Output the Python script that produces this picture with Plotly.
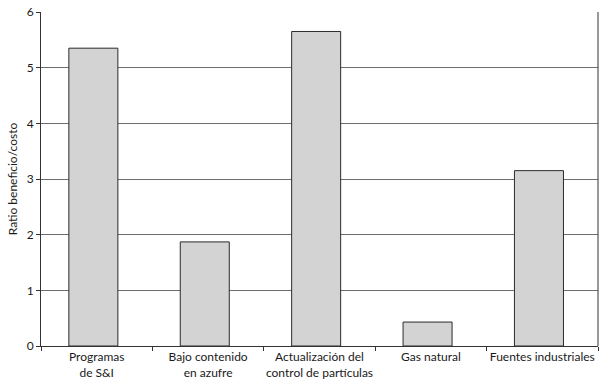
import plotly.graph_objects as go

categories = ["Programas<br>de S&I", "Bajo contenido<br>en azufre", "Actualización del<br>control de partículas", "Gas natural", "Fuentes industriales"]
values = [5.35, 1.87, 5.65, 0.43, 3.15]
y_ticks = [0, 1, 2, 3, 4, 5, 6]

fig = go.Figure(go.Bar(
    x=categories, y=values,
    marker=dict(color="#d3d3d3", line=dict(color="#2a2a2a", width=1)),
    width=0.44, offset=-0.25,
))

font = "Lato, Open Sans, sans-serif"
fig.update_layout(
    width=610, height=380,
    margin=dict(l=41, r=12, t=12, b=34),
    paper_bgcolor="white", plot_bgcolor="white",
    font=dict(family=font, size=12, color="#1a1a1a"),
    showlegend=False,
)
fig.update_xaxes(
    showline=True, linecolor="#333333", linewidth=1, mirror=False,
    ticks="outside", tickson="boundaries", ticklen=4, tickcolor="#333333",
    tickfont=dict(size=12), showgrid=False, tickangle=0, automargin=False,
)
fig.update_yaxes(
    range=[0, 6], tickvals=y_ticks, ticks="outside", ticklen=4, tickcolor="#333333",
    showline=True, linecolor="#333333", linewidth=1,
    showgrid=True, gridcolor="#6e6e6e", gridwidth=1,
    title=dict(text="Ratio beneficio/costo", font=dict(size=12), standoff=6),
    tickfont=dict(size=12), zeroline=False, automargin=False,
)
# right border of plot frame
fig.add_shape(type="line", xref="paper", yref="paper", x0=1, x1=1, y0=0, y1=1,
              line=dict(color="#333333", width=1))

fig.write_html("out.html", config={"displayModeBar": False},
               post_script="document.body.style.margin='0';document.body.style.overflow='hidden';")
